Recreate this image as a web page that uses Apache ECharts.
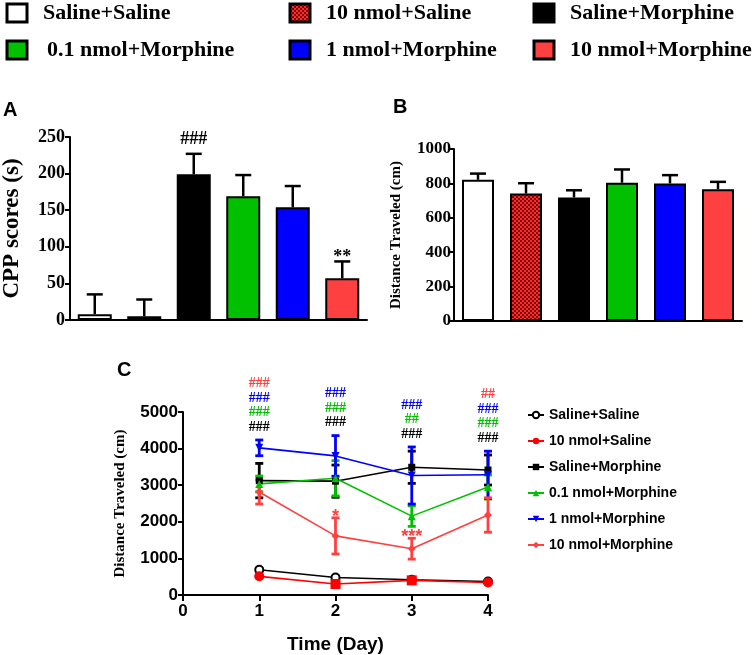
<!DOCTYPE html>
<html>
<head>
<meta charset="utf-8">
<script src="https://cdn.jsdelivr.net/npm/echarts@6/dist/echarts.min.js"></script>
<style>
  html, body { margin: 0; padding: 0; background: #fff; }
  #chart { width: 754px; height: 655px; }
</style>
</head>
<body>
<div id="chart"></div>
<script>
// group names, shared by all three panels
const groups = ['Saline+Saline', '10 nmol+Saline', 'Saline+Morphine',
  '0.1 nmol+Morphine', '1 nmol+Morphine', '10 nmol+Morphine'];

// panel A: CPP scores (s), mean and SEM
const cppMean = [8, 5, 199, 169, 154, 57];
const cppSem = [27, 23, 28, 29, 29, 23];
const cppSig = ['', '', '###', '', '', '**'];

// panel B: distance traveled (cm)
const distMean = [821, 741, 718, 804, 800, 766];
const distSem = [36, 60, 42, 77, 48, 43];

// panel C: distance traveled per day
const days = [1, 2, 3, 4];
const dayMean = [
  [690, 480, 415, 370],
  [510, 300, 400, 340],
  [3125, 3110, 3490, 3415],
  [3035, 3190, 2155, 2950],
  [4020, 3800, 3265, 3285],
  [2815, 1615, 1265, 2185]
];
const daySem = [
  [40, 30, 30, 25],
  [40, 50, 60, 40],
  [470, 440, 440, 410],
  [215, 480, 280, 330],
  [215, 555, 780, 645],
  [330, 495, 285, 470]
];
// per day, bottom to top: [group index, mark]
const daySig = [
  [[2, '###'], [3, '###'], [4, '###'], [5, '###']],
  [[2, '###'], [3, '###'], [4, '###']],
  [[2, '###'], [3, '##'], [4, '###']],
  [[2, '###'], [3, '###'], [4, '###'], [5, '##']]
];
const dayStars = ['', '*', '***', ''];

const SERIF = '"Liberation Serif", "Times New Roman", serif';
const SANS = '"Liberation Sans", Arial, sans-serif';

function checker() {
  const c = document.createElement('canvas');
  c.width = 4; c.height = 4;
  const g = c.getContext('2d');
  g.fillStyle = '#ff2a2a'; g.fillRect(0, 0, 4, 4);
  g.fillStyle = '#7a0000'; g.fillRect(0, 0, 2, 2); g.fillRect(2, 2, 2, 2);
  return c;
}
const pattern = { image: checker(), repeat: 'repeat' };

const barFill = ['#ffffff', pattern, '#000000', '#00c000', '#0000ff', '#ff4040'];
const lineColor = ['#000000', '#ff0000', '#000000', '#00c000', '#0000ff', '#ff4040'];
const symbols = ['emptyCircle', 'circle', 'rect', 'triangle', 'triangle', 'diamond'];
const symbolSizes = [8, 10, 7, 8, 8, 8];

const chart = echarts.init(document.getElementById('chart'));

const plain = v => String(v);

function barAxisY(gridIndex, max, interval, fontSize, name, nameGap, nameSize, margin) {
  return {
    gridIndex, type: 'value', min: 0, max, interval,
    name, nameLocation: 'middle', nameGap, nameRotate: 90,
    nameTextStyle: { fontFamily: SERIF, fontWeight: 'bold', fontSize: nameSize, color: '#000' },
    axisLine: { show: true, lineStyle: { color: '#000', width: 2 } },
    axisTick: { show: true, length: 5, lineStyle: { color: '#000', width: 2 } },
    axisLabel: { fontFamily: SERIF, fontWeight: 'bold', fontSize, color: '#000', margin, formatter: plain },
    splitLine: { show: false }
  };
}

function barAxisX(gridIndex) {
  return {
    gridIndex, type: 'category', data: groups,
    axisLine: { show: true, lineStyle: { color: '#000', width: 2 } },
    axisTick: { show: false },
    axisLabel: { show: false }
  };
}

function barErrors(axisIndex, mean, sem, sig) {
  return {
    type: 'custom', xAxisIndex: axisIndex, yAxisIndex: axisIndex, z: 5,
    data: mean.map((m, i) => [i, m, sem[i]]),
    renderItem(params, api) {
      const x = api.value(0), m = api.value(1), e = api.value(2);
      const p0 = api.coord([x, m]);
      const p1 = api.coord([x, m + e]);
      const st = { stroke: '#000', lineWidth: 2.5 };
      const kids = [
        { type: 'line', shape: { x1: p0[0], y1: p0[1], x2: p1[0], y2: p1[1] }, style: st },
        { type: 'line', shape: { x1: p1[0] - 8, y1: p1[1], x2: p1[0] + 8, y2: p1[1] }, style: st }
      ];
      const s = sig ? sig[params.dataIndex] : '';
      if (s) {
        const star = s.indexOf('*') >= 0;
        kids.push({
          type: 'text', x: p1[0], y: p1[1] - (star ? 4 : 14),
          style: { text: s, fill: '#000', font: 'bold 18px ' + SERIF, align: 'center', verticalAlign: 'middle' }
        });
      }
      return { type: 'group', children: kids };
    }
  };
}

function bars(axisIndex, mean, width) {
  return {
    type: 'bar', name: 'bars' + axisIndex, xAxisIndex: axisIndex, yAxisIndex: axisIndex,
    barWidth: width,
    data: mean.map((v, i) => ({ value: v, itemStyle: { color: barFill[i] } })),
    itemStyle: { borderColor: '#000', borderWidth: 2 }
  };
}

const lineSeries = groups.map((name, g) => ({
  type: 'line', name, xAxisIndex: 2, yAxisIndex: 2, z: 4,
  data: days.map((d, i) => {
    const item = { value: [d, dayMean[g][i]] };
    if (g === 1 && (i === 1 || i === 2)) item.symbol = 'rect';
    return item;
  }),
  symbol: symbols[g], symbolSize: symbolSizes[g],
  symbolRotate: g === 4 ? 180 : 0,
  lineStyle: { color: lineColor[g], width: 1.6 },
  itemStyle: { color: lineColor[g], borderColor: lineColor[g], borderWidth: g === 0 ? 2 : 0 }
}));

const errSeries = groups.map((name, g) => ({
  type: 'custom', xAxisIndex: 2, yAxisIndex: 2, z: 3,
  data: days.map((d, i) => [d, dayMean[g][i], daySem[g][i]]),
  renderItem(params, api) {
    const x = api.value(0), m = api.value(1), e = api.value(2);
    const hi = api.coord([x, m + e]);
    const lo = api.coord([x, m - e]);
    const st = { stroke: lineColor[g], lineWidth: 2.8 };
    return {
      type: 'group', children: [
        { type: 'line', shape: { x1: hi[0], y1: hi[1], x2: lo[0], y2: lo[1] }, style: st },
        { type: 'line', shape: { x1: hi[0] - 4, y1: hi[1], x2: hi[0] + 4, y2: hi[1] }, style: st },
        { type: 'line', shape: { x1: lo[0] - 4, y1: lo[1], x2: lo[0] + 4, y2: lo[1] }, style: st }
      ]
    };
  }
}));

const sigSeries = {
  type: 'custom', xAxisIndex: 2, yAxisIndex: 2, z: 6, clip: false,
  data: days.map(d => [d]),
  renderItem(params, api) {
    const i = params.dataIndex;
    const top = Math.max(...[2, 3, 4, 5].map(g => dayMean[g][i] + daySem[g][i]));
    const p = api.coord([days[i], top]);
    const kids = daySig[i].map(([g, t], k) => ({
      type: 'text', x: p[0], y: p[1] - 13 - k * 14.5,
      style: { text: t, fill: lineColor[g], font: 'bold 14px ' + SERIF, align: 'center', verticalAlign: 'middle' }
    }));
    if (dayStars[i]) {
      const q = api.coord([days[i], dayMean[5][i] + daySem[5][i]]);
      kids.push({
        type: 'text', x: q[0], y: q[1] - 1,
        style: { text: dayStars[i], fill: lineColor[5], font: 'bold 18px ' + SANS, align: 'center', verticalAlign: 'middle' }
      });
    }
    return { type: 'group', children: kids };
  }
};

// top legend, drawn as boxes and text
const legendCols = [7, 290, 534];
const legendRows = [13, 50];
const topLegend = [];
groups.forEach((name, i) => {
  const col = i % 3, row = Math.floor(i / 3);
  const x = legendCols[col], y = legendRows[row];
  topLegend.push({
    type: 'rect', shape: { x, y: y - 9, width: 20, height: 18 },
    style: { fill: barFill[i], stroke: '#000', lineWidth: 3 }
  });
  topLegend.push({
    type: 'text', x: x + (i === 3 ? 40 : 36), y,
    style: { text: name, fill: '#000', font: 'bold 22px ' + SERIF, verticalAlign: 'middle' }
  });
});

const panelLetters = [['A', 3, 110], ['B', 393, 107], ['C', 117, 370]].map(([t, x, y]) => ({
  type: 'text', x, y,
  style: { text: t, fill: '#000', font: 'bold 20px ' + SANS, verticalAlign: 'middle' }
}));

chart.setOption({
  animation: false,
  backgroundColor: '#fff',
  grid: [
    { left: 57, top: 137, width: 310, height: 183 },
    { left: 454, top: 149, width: 288, height: 172 },
    { left: 183, top: 412, width: 305, height: 190 }
  ],
  xAxis: [
    barAxisX(0),
    barAxisX(1),
    {
      gridIndex: 2, type: 'value', min: 0, max: 4, interval: 1,
      name: 'Time (Day)', nameLocation: 'middle', nameGap: 40,
      nameTextStyle: { fontFamily: SANS, fontWeight: 'bold', fontSize: 19, color: '#000' },
      axisLine: { show: true, lineStyle: { color: '#000', width: 2 } },
      axisTick: { show: true, length: 6, lineStyle: { color: '#000', width: 2 } },
      axisLabel: { fontFamily: SANS, fontWeight: 'bold', fontSize: 17, color: '#000', margin: 8 },
      splitLine: { show: false }
    }
  ],
  yAxis: [
    barAxisY(0, 250, 50, 18, 'CPP scores (s)', 46, 23, 5),
    barAxisY(1, 1000, 200, 17, 'Distance Traveled (cm)', 50, 15, 3),
    {
      gridIndex: 2, type: 'value', min: 0, max: 5000, interval: 1000,
      name: 'Distance Traveled (cm)', nameLocation: 'middle', nameGap: 55, nameRotate: 90,
      nameTextStyle: { fontFamily: SERIF, fontWeight: 'bold', fontSize: 15, color: '#000' },
      axisLine: { show: true, lineStyle: { color: '#000', width: 2 } },
      axisTick: { show: true, length: 5, lineStyle: { color: '#000', width: 2 } },
      axisLabel: { fontFamily: SANS, fontWeight: 'bold', fontSize: 17, color: '#000', margin: 5, formatter: plain },
      splitLine: { show: false }
    }
  ],
  legend: {
    data: groups, orient: 'vertical', left: 522, top: 403,
    itemWidth: 16, itemHeight: 8, itemGap: 12,
    textStyle: { fontFamily: SANS, fontWeight: 'bold', fontSize: 14, color: '#000' }
  },
  graphic: topLegend.concat(panelLetters),
  series: [
    bars(0, cppMean, 34),
    barErrors(0, cppMean, cppSem, cppSig),
    bars(1, distMean, 32),
    barErrors(1, distMean, distSem, null),
    ...errSeries,
    ...lineSeries,
    sigSeries
  ]
});
</script>
</body>
</html>
